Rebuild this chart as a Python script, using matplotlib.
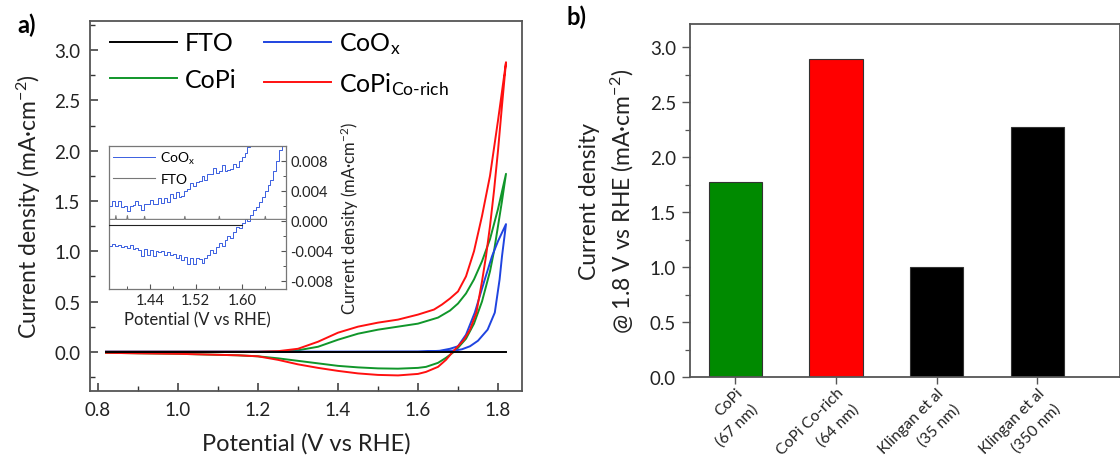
import matplotlib
matplotlib.use('Agg')
import matplotlib.pyplot as plt
from matplotlib.ticker import MultipleLocator, FixedLocator, FormatStrFormatter

plt.rcParams['font.family'] = ['Lato', 'DejaVu Sans']
plt.rcParams['mathtext.fontset'] = 'custom'
plt.rcParams['mathtext.rm'] = 'Lato'
plt.rcParams['mathtext.it'] = 'Lato'
plt.rcParams['mathtext.bf'] = 'Lato:bold'

# ---------------- data: panel a (CV curves) ----------------
fto_v = [0.82, 1.00, 1.20, 1.40, 1.60, 1.82]
fto_j = [0.0, 0.0, 0.0, 0.0, 0.0, 0.0]

coox_v = [0.82, 1.00, 1.20, 1.40, 1.60, 1.63, 1.654, 1.68, 1.70, 1.72, 1.742, 1.767, 1.785, 1.80, 1.82,
          1.81, 1.804, 1.792, 1.774, 1.75, 1.73, 1.71, 1.696, 1.67, 1.60, 1.40, 1.20, 1.00, 0.82]
coox_j = [0.0, 0.0, 0.0, 0.0, 0.002, 0.005, 0.01, 0.03, 0.055, 0.17, 0.39, 0.72, 0.95, 1.10, 1.27,
          0.95, 0.72, 0.39, 0.22, 0.11, 0.055, 0.025, 0.015, 0.005, 0.0, 0.0, 0.0, 0.0, 0.0]

copi_v = [0.82, 1.00, 1.20, 1.25, 1.30, 1.35, 1.40, 1.45, 1.50, 1.55, 1.60, 1.65, 1.68, 1.70, 1.72, 1.74,
          1.76, 1.78, 1.80, 1.82,
          1.81, 1.80, 1.79, 1.78, 1.76, 1.74, 1.72, 1.70, 1.69, 1.67, 1.65, 1.62, 1.60, 1.55, 1.50,
          1.45, 1.40, 1.35, 1.30, 1.25, 1.20, 1.15, 1.10, 1.00, 0.90, 0.82]
copi_j = [0.0, 0.0, 0.0, 0.003, 0.015, 0.05, 0.12, 0.18, 0.22, 0.25, 0.28, 0.34, 0.41, 0.48, 0.58, 0.72,
          0.90, 1.12, 1.42, 1.77,
          1.50, 1.25, 1.00, 0.80, 0.50, 0.28, 0.13, 0.04, 0.0, -0.06, -0.11, -0.15, -0.16, -0.168, -0.165,
          -0.155, -0.14, -0.115, -0.09, -0.065, -0.045, -0.035, -0.03, -0.02, -0.015, -0.01]

copicor_v = [0.82, 1.00, 1.20, 1.25, 1.30, 1.35, 1.40, 1.45, 1.50, 1.55, 1.60, 1.64, 1.66, 1.68, 1.70,
             1.72, 1.74, 1.76, 1.78, 1.80, 1.82,
             1.81, 1.80, 1.79, 1.78, 1.77, 1.76, 1.746, 1.73, 1.715, 1.70, 1.687, 1.67, 1.65, 1.62,
             1.60, 1.55, 1.50, 1.45, 1.40, 1.35, 1.30, 1.25, 1.20, 1.15, 1.10, 1.00, 0.90, 0.82]
copicor_j = [0.0, 0.0, 0.0, 0.006, 0.03, 0.10, 0.19, 0.25, 0.29, 0.32, 0.37, 0.42, 0.47, 0.53, 0.60,
             0.75, 1.00, 1.35, 1.75, 2.30, 2.88,
             2.45, 2.00, 1.60, 1.25, 0.95, 0.70, 0.39, 0.22, 0.12, 0.055, 0.0, -0.08, -0.15, -0.2,
             -0.22, -0.235, -0.23, -0.215, -0.19, -0.16, -0.125, -0.08, -0.045, -0.035, -0.03, -0.02, -0.015, -0.01]

# ---------------- data: inset ----------------
in_fwd_v = [1.370, 1.375, 1.380, 1.385, 1.390, 1.395, 1.400, 1.405, 1.410, 1.415, 1.420, 1.425, 1.430,
            1.435, 1.440, 1.445, 1.450, 1.455, 1.460, 1.465, 1.470, 1.475, 1.480, 1.485, 1.490, 1.495,
            1.500, 1.505, 1.510, 1.515, 1.520, 1.525, 1.530, 1.535, 1.540, 1.545, 1.550, 1.555, 1.560,
            1.565, 1.570, 1.575, 1.580, 1.585, 1.590, 1.595, 1.600, 1.605, 1.610, 1.615]
in_fwd_j = [0.0020, 0.0027, 0.0020, 0.0026, 0.0019, 0.0020, 0.0013, 0.0020, 0.0021, 0.0027, 0.0021,
            0.0014, 0.0022, 0.0022, 0.0028, 0.0022, 0.0023, 0.0030, 0.0024, 0.0031, 0.0025, 0.0036,
            0.0030, 0.0038, 0.0032, 0.0033, 0.0040, 0.0042, 0.0050, 0.0046, 0.0052, 0.0053, 0.0060,
            0.0055, 0.0062, 0.0063, 0.0071, 0.0064, 0.0066, 0.0074, 0.0067, 0.0068, 0.0069, 0.0076,
            0.0072, 0.0080, 0.0085, 0.0090, 0.0098, 0.0110]
in_rev_v = [1.370, 1.375, 1.380, 1.385, 1.390, 1.395, 1.400, 1.405, 1.410, 1.415, 1.420, 1.425, 1.430,
            1.435, 1.440, 1.445, 1.450, 1.455, 1.460, 1.465, 1.470, 1.475, 1.480, 1.485, 1.490, 1.495,
            1.500, 1.505, 1.510, 1.515, 1.520, 1.525, 1.530, 1.535, 1.540, 1.545, 1.550, 1.555, 1.560,
            1.565, 1.570, 1.575, 1.580, 1.585, 1.590, 1.595, 1.600, 1.605, 1.610, 1.615, 1.620, 1.625,
            1.630, 1.635, 1.640, 1.645, 1.650, 1.655, 1.660, 1.665, 1.670]
in_rev_j = [-0.0034, -0.0031, -0.0034, -0.0032, -0.0035, -0.0033, -0.0036, -0.0032, -0.0037, -0.0036,
            -0.0039, -0.0047, -0.0038, -0.0046, -0.0039, -0.0047, -0.0040, -0.0041, -0.0040, -0.0046,
            -0.0042, -0.0045, -0.0044, -0.0049, -0.0045, -0.0052, -0.0048, -0.0057, -0.0050, -0.0057,
            -0.0050, -0.0051, -0.0056, -0.0050, -0.0045, -0.0039, -0.0043, -0.0035, -0.0030, -0.0033,
            -0.0026, -0.0020, -0.0023, -0.0015, -0.0008, -0.0010, -0.0003, 0.0003, 0.0000, 0.0008,
            0.0015, 0.0018, 0.0025, 0.0032, 0.0040, 0.0048, 0.0055, 0.0066, 0.0080, 0.0095, 0.0110]
in_fto_v = [1.36, 1.38, 1.381, 1.382, 1.40, 1.401, 1.402, 1.43, 1.431, 1.432, 1.50, 1.501, 1.502,
            1.56, 1.561, 1.562, 1.64, 1.641, 1.642, 1.68]
in_fto_j = [0.0002, 0.0002, 0.0007, 0.0002, 0.0002, 0.0007, 0.0002, 0.0002, 0.0006, 0.0002, 0.0002,
            0.0006, 0.0002, 0.0002, 0.0006, 0.0002, 0.0002, 0.0006, 0.0002, 0.0002]
in_fto2_v = [1.36, 1.60]
in_fto2_j = [-0.0005, -0.0005]

# ---------------- data: panel b (bars) ----------------
bar_labels = ['CoPi\n(67 nm)', 'CoPi Co-rich\n(64 nm)', 'Klingan et al\n(35 nm)', 'Klingan et al\n(350 nm)']
bar_values = [1.77, 2.89, 1.00, 2.27]
bar_colors = ['#008a00', '#ff0000', '#000000', '#000000']

W, H = 1120, 477
fig = plt.figure(figsize=(W / 100, H / 100), dpi=100)

C_BLUE = '#1f44e0'
C_GREEN = '#10962a'
C_RED = '#ff1010'
SPINE = '#555555'

# ---------------- panel a ----------------
ax = fig.add_axes([90 / W, 1 - 392 / H, 432 / W, 370 / H])
lw = 1.4
l_fto, = ax.plot(fto_v, fto_j, color='black', lw=lw, label='FTO', zorder=5)
l_copi, = ax.plot(copi_v, copi_j, color=C_GREEN, lw=lw, label='CoPi')
l_coox, = ax.plot(coox_v, coox_j, color=C_BLUE, lw=lw, label=r'CoO$_{\mathregular{x}}$')
l_cor, = ax.plot(copicor_v, copicor_j, color=C_RED, lw=lw, label=r'CoPi$_{\mathregular{Co\text{-}rich}}$')
ax.set_xlim(0.78, 1.86)
ax.set_ylim(-0.39, 3.29)
ax.xaxis.set_major_locator(MultipleLocator(0.2))
ax.xaxis.set_minor_locator(MultipleLocator(0.1))
ax.yaxis.set_major_locator(MultipleLocator(0.5))
ax.yaxis.set_minor_locator(MultipleLocator(0.25))
ax.tick_params(which='both', direction='in', top=False, right=False, colors='#333333', labelcolor='#222222')
ax.tick_params(which='major', length=6, width=1.1, labelsize=13.5, pad=7)
ax.tick_params(which='minor', length=3.5, width=1.0)
for s in ax.spines.values():
    s.set_color(SPINE)
    s.set_linewidth(1.3)
ax.set_xlabel('Potential (V vs RHE)', fontsize=17, labelpad=10, color='#222222')
ax.set_ylabel('Current density (mA·cm$^{-2}$)', fontsize=16.5, labelpad=8, color='#222222')
ax.legend(handles=[l_fto, l_copi, l_coox, l_cor], ncol=2, loc='upper left', frameon=False,
          fontsize=18, handlelength=2.7, handletextpad=0.3, columnspacing=1.1, labelspacing=0.55,
          borderpad=0, borderaxespad=0, bbox_to_anchor=(0.046, 0.975))

# ---------------- inset ----------------
top_in = 147
axi = fig.add_axes([109 / W, 1 - 290 / H, 177 / W, (290 - top_in) / H])
li_fto, = axi.plot(in_fto_v, in_fto_j, color='#777777', lw=0.8, label='FTO', zorder=3)
axi.plot(in_fto2_v, in_fto2_j, color='#222222', lw=0.8, zorder=3)
li_coox, = axi.plot(in_fwd_v, in_fwd_j, color='#3a5fe0', lw=0.7, label=r'CoO$_{\mathregular{x}}$',
                    drawstyle='steps-post')
axi.plot(in_rev_v, in_rev_j, color='#3a5fe0', lw=0.7, drawstyle='steps-post')
axi.set_xlim(1.369, 1.677)
axi.set_ylim(-0.0091, 0.0100)
axi.xaxis.set_major_locator(FixedLocator([1.44, 1.52, 1.60]))
axi.xaxis.set_minor_locator(FixedLocator([1.40, 1.48, 1.56, 1.64]))
axi.yaxis.set_major_locator(MultipleLocator(0.004))
axi.yaxis.set_minor_locator(MultipleLocator(0.002))
axi.yaxis.tick_right()
axi.yaxis.set_label_position('right')
axi.xaxis.set_major_formatter(FormatStrFormatter('%.2f'))
axi.yaxis.set_major_formatter(FormatStrFormatter('%.3f'))
axi.tick_params(which='both', direction='in', top=False, left=False, right=True, colors='#555555',
                labelcolor='#222222')
axi.tick_params(which='major', length=3.5, width=0.8, labelsize=10.5, pad=3)
axi.tick_params(which='minor', length=2, width=0.7)
for s in axi.spines.values():
    s.set_color('#777777')
    s.set_linewidth(0.9)
axi.set_xlabel('Potential (V vs RHE)', fontsize=12, labelpad=3, color='#222222')
axi.set_ylabel('Current density (mA·cm$^{-2}$)', fontsize=12, labelpad=4, color='#222222')
axi.legend(handles=[li_coox, li_fto], loc='upper left', frameon=False, fontsize=10,
           handlelength=3.0, handletextpad=0.4, labelspacing=0.45, borderpad=0.2, borderaxespad=0.1)

# ---------------- panel b ----------------
ax2 = fig.add_axes([690 / W, 1 - 378 / H, 430 / W, 353 / H])
xpos = list(range(len(bar_values)))
ax2.bar(xpos, bar_values, width=0.53, color=bar_colors, edgecolor='#333333', linewidth=0.8)
ax2.set_xlim(-0.45, 3.82)
ax2.set_ylim(0, 3.21)
ax2.yaxis.set_major_locator(MultipleLocator(0.5))
ax2.yaxis.set_minor_locator(MultipleLocator(0.25))
ax2.set_xticks(xpos)
ax2.set_xticklabels(bar_labels, rotation=45, ha='right', va='top', rotation_mode='anchor',
                    multialignment='right', fontsize=11.3, linespacing=1.7)
ax2.tick_params(which='both', direction='out', top=False, right=False, colors='#555555',
                labelcolor='#222222')
ax2.tick_params(axis='y', which='major', length=6, width=1.0, labelsize=13.5, pad=4)
ax2.tick_params(axis='y', which='minor', length=3.5, width=0.9)
ax2.tick_params(axis='x', which='major', length=5, width=1.0, pad=1)
for s in ax2.spines.values():
    s.set_color(SPINE)
    s.set_linewidth(1.3)
ax2.set_ylabel('Current density\n@ 1.8 V vs RHE (mA·cm$^{-2}$)', fontsize=16.5, labelpad=10,
               color='#222222', linespacing=1.4)

fig.text(27 / W, 1 - 25 / H, 'a)', fontsize=17, fontweight='bold', ha='center', va='center')
fig.text(577 / W, 1 - 17 / H, 'b)', fontsize=17, fontweight='bold', ha='center', va='center')

fig.savefig('out.png', dpi=100)
